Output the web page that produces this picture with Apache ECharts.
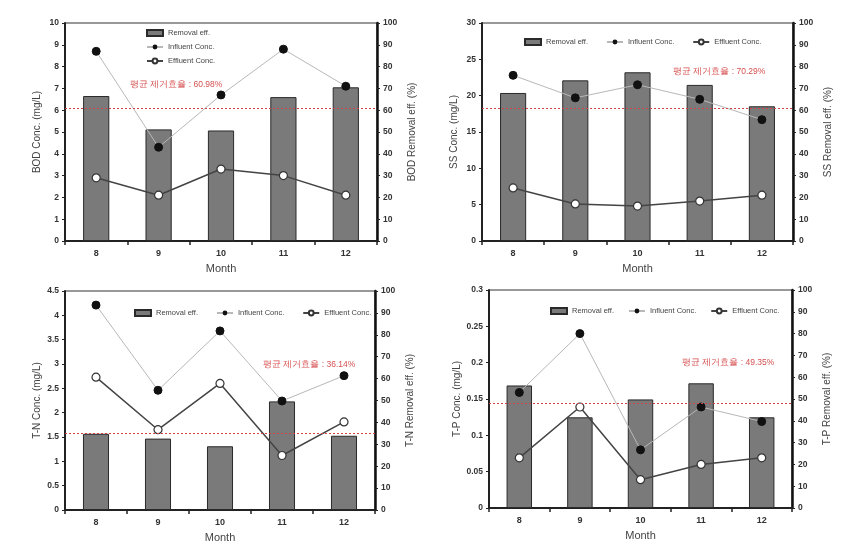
<!DOCTYPE html>
<html>
<head>
<meta charset="utf-8">
<script src="https://cdn.jsdelivr.net/npm/echarts@6/dist/echarts.min.js"></script>
<style>html,body{margin:0;padding:0;background:#fff}#c{width:853px;height:545px}</style>
</head>
<body>
<div id="c"></div>
<script>
// ---- data ----
var months = ['8', '9', '10', '11', '12'];

var bodRemoval = [66.5, 51.2, 50.7, 66.0, 70.5];
var bodInfluent = [8.7, 4.3, 6.7, 8.8, 7.1];
var bodEffluent = [2.9, 2.1, 3.3, 3.0, 2.1];

var ssRemoval = [67.9, 73.7, 77.4, 71.6, 61.8];
var ssInfluent = [22.8, 19.7, 21.5, 19.5, 16.7];
var ssEffluent = [7.3, 5.1, 4.8, 5.5, 6.3];

var tnRemoval = [34.8, 32.6, 29.1, 49.6, 33.9];
var tnInfluent = [4.21, 2.46, 3.68, 2.24, 2.76];
var tnEffluent = [2.73, 1.65, 2.60, 1.12, 1.81];

var tpRemoval = [56.2, 41.6, 49.8, 57.2, 41.6];
var tpInfluent = [0.159, 0.240, 0.080, 0.139, 0.119];
var tpEffluent = [0.069, 0.139, 0.039, 0.060, 0.069];

var avgLines = [61, 61, 35, 48.1];
var avgLabels = ['평균 제거효율 : 60.98%', '평균 제거효율 : 70.29%', '평균 제거효율 : 36.14%', '평균 제거효율 : 49.35%'];

var leftNames = ['BOD Conc. (mg/L)', 'SS Conc. (mg/L)', 'T-N Conc. (mg/L)', 'T-P Conc. (mg/L)'];
var rightNames = ['BOD Removal eff. (%)', 'SS Removal eff. (%)', 'T-N Removal eff. (%)', 'T-P Removal eff. (%)'];
var leftMax = [10, 30, 4.5, 0.3];
var leftInterval = [1, 5, 0.5, 0.05];

var seriesNames = ['Removal eff.', 'Influent Conc.', 'Effluent Conc.'];

// ---- layout ----
var grids = [
  {left: 65, top: 23, width: 312, height: 218},
  {left: 482, top: 23, width: 311, height: 218},
  {left: 65, top: 291, width: 310, height: 219},
  {left: 489, top: 290, width: 303, height: 218}
];
var removal = [bodRemoval, ssRemoval, tnRemoval, tpRemoval];
var influent = [bodInfluent, ssInfluent, tnInfluent, tpInfluent];
var effluent = [bodEffluent, ssEffluent, tnEffluent, tpEffluent];

var FONT = '"Liberation Sans", Arial, sans-serif';
var txt = '#333';

var option = {
  animation: false,
  backgroundColor: '#fff',
  textStyle: {fontFamily: FONT},
  grid: [], xAxis: [], yAxis: [], series: [], legend: [], graphic: []
};

grids.forEach(function (g, i) {
  option.grid.push({left: g.left, top: g.top, width: g.width, height: g.height,
    show: true, borderColor: '#333', borderWidth: 1, containLabel: false});
  option.xAxis.push({
    type: 'category', gridIndex: i, data: months, name: 'Month',
    nameLocation: 'middle', nameGap: 22,
    nameTextStyle: {fontSize: 11, color: '#444', fontFamily: FONT},
    axisLine: {lineStyle: {color: '#222', width: 2}},
    axisTick: {show: true, length: 4, lineStyle: {color: '#222', width: 1.5}},
    axisLabel: {fontSize: 9, color: txt, margin: 8, fontWeight: 'bold'}
  });
  option.yAxis.push({
    type: 'value', gridIndex: i, min: 0, max: leftMax[i], interval: leftInterval[i],
    position: 'left', name: leftNames[i], nameLocation: 'middle', nameGap: 23,
    nameTextStyle: {fontSize: 10, color: '#444', fontFamily: FONT},
    axisLine: {show: true, lineStyle: {color: '#222', width: 2}},
    axisTick: {show: true, length: 3, lineStyle: {color: '#222'}},
    axisLabel: {fontSize: 8.5, color: txt, margin: 6, fontWeight: 'bold'},
    splitLine: {show: false}
  });
  option.yAxis.push({
    type: 'value', gridIndex: i, min: 0, max: 100, interval: 10,
    position: 'right', name: rightNames[i], nameLocation: 'middle', nameGap: 30,
    nameRotate: 90,
    nameTextStyle: {fontSize: 10, color: '#444', fontFamily: FONT},
    axisLine: {show: true, lineStyle: {color: '#111', width: 2.5}},
    axisTick: {show: true, length: 3, lineStyle: {color: '#222'}},
    axisLabel: {fontSize: 8.5, color: txt, margin: 6, fontWeight: 'bold'},
    splitLine: {show: false}
  });
  option.series.push({
    name: seriesNames[0], type: 'bar', xAxisIndex: i, yAxisIndex: i * 2 + 1,
    data: removal[i], barWidth: '42%',
    itemStyle: {color: '#7a7a7a', borderColor: '#2a2a2a', borderWidth: 1},
    z: 1,
    markLine: {
      silent: true, symbol: 'none', label: {show: false},
      lineStyle: {color: '#d04545', type: [2, 2], width: 1},
      data: [{yAxis: avgLines[i]}]
    }
  });
  option.series.push({
    name: seriesNames[1], type: 'line', xAxisIndex: i, yAxisIndex: i * 2,
    data: influent[i], symbol: 'circle', symbolSize: 8,
    lineStyle: {color: '#b8b8b8', width: 1},
    itemStyle: {color: '#111', borderColor: '#111'}, z: 3
  });
  option.series.push({
    name: seriesNames[2], type: 'line', xAxisIndex: i, yAxisIndex: i * 2,
    data: effluent[i], symbol: 'circle', symbolSize: 8,
    lineStyle: {color: '#444', width: 1.5},
    itemStyle: {color: '#fff', borderColor: '#333', borderWidth: 1.2}, z: 4
  });
});

var legStyle = {fontSize: 7.5, color: '#444', fontFamily: FONT};
var legData = [{name: seriesNames[0], icon: 'rect'}, {name: seriesNames[1]}, {name: seriesNames[2]}];
option.legend = [
  {orient: 'vertical', left: 146, top: 29, itemGap: 6, itemWidth: 16, itemHeight: 6, data: legData, textStyle: legStyle, padding: 0},
  {orient: 'horizontal', left: 524, top: 38, itemGap: 18, itemWidth: 16, itemHeight: 6, data: legData, textStyle: legStyle, padding: 0},
  {orient: 'horizontal', left: 134, top: 309, itemGap: 18, itemWidth: 16, itemHeight: 6, data: legData, textStyle: legStyle, padding: 0},
  {orient: 'horizontal', left: 550, top: 307, itemGap: 14, itemWidth: 16, itemHeight: 6, data: legData, textStyle: legStyle, padding: 0}
];

var labelPos = [[130, 80], [673, 67], [263, 360], [682, 358]];
labelPos.forEach(function (p, i) {
  option.graphic.push({type: 'text', left: p[0], top: p[1],
    style: {text: avgLabels[i], fill: '#d65050', font: '8.5px ' + FONT}});
});

var chart = echarts.init(document.getElementById('c'), null, {renderer: 'canvas'});
chart.setOption(option);
</script>
</body>
</html>
